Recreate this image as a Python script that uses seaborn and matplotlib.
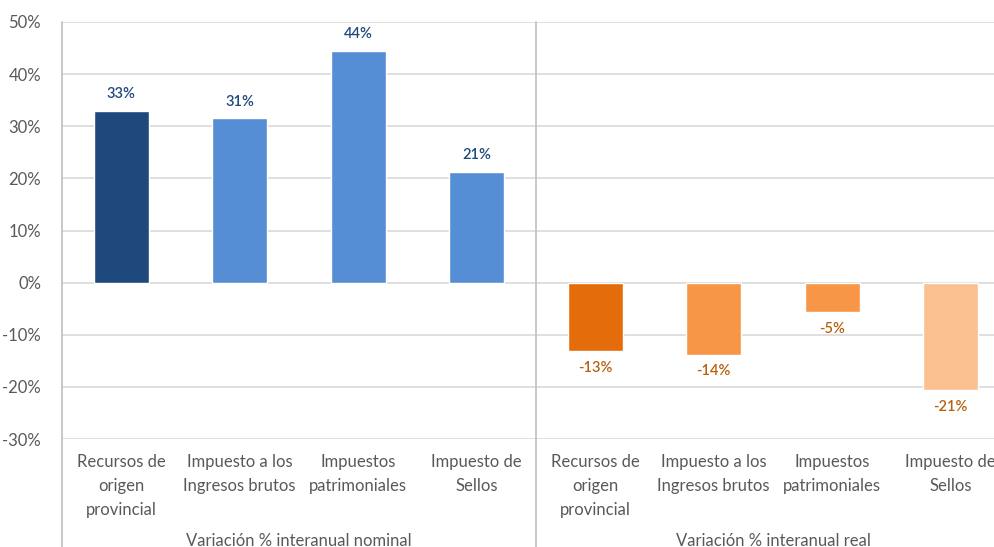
import pandas as pd
import seaborn as sns
import matplotlib.pyplot as plt
from matplotlib.ticker import FuncFormatter

# ---------------------------------------------------------
# DADES
# ---------------------------------------------------------
conceptos = ['Recursos de\norigen\nprovincial', 'Impuesto a los\nIngresos brutos',
             'Impuestos\npatrimoniales', 'Impuesto de\nSellos']
grupos = ['Variación % interanual nominal', 'Variación % interanual real']
var_nominal = [32.9, 31.5, 44.4, 21.2]
var_real = [-13.1, -13.8, -5.6, -20.6]
etiquetas_nominal = ['33%', '31%', '44%', '21%']
etiquetas_real = ['-13%', '-14%', '-5%', '-21%']

colores = ['#1F497D', '#558ED5', '#558ED5', '#558ED5',
           '#E46C0A', '#F79646', '#F79646', '#FAC090']
color_txt_nom = '#1F497D'
color_txt_real = '#B8600F'
GRIS = '#595959'

df = pd.DataFrame({
    'slot': list(range(8)),
    'concepto': conceptos * 2,
    'grupo': [grupos[0]] * 4 + [grupos[1]] * 4,
    'valor': var_nominal + var_real,
    'etiqueta': etiquetas_nominal + etiquetas_real,
})

# ---------------------------------------------------------
# GRÀFIC
# ---------------------------------------------------------
sns.set_style("white")
plt.rcParams['font.family'] = ['Lato', 'DejaVu Sans']

fig = plt.figure(figsize=(9.95, 5.47), dpi=100)
W, H = 995, 547
ax = fig.add_axes([62 / W, 1 - 439 / H, 948 / W, 417 / H])

sns.barplot(data=df, x='slot', y='valor', hue='slot', palette=colores,
            saturation=1, dodge=False, legend=False, width=0.46, ax=ax, zorder=3)

ax.set_xlim(-0.5, 7.5)
ax.set_ylim(-30, 50)
ax.set_yticks(range(-30, 51, 10))
ax.yaxis.set_major_formatter(FuncFormatter(lambda v, p: f'{v:.0f}%'))
ax.grid(axis='y', color='#D9D9D9', linewidth=1.2, zorder=0)
ax.set_axisbelow(True)
for s in ax.spines.values():
    s.set_visible(False)

ax.set_xticks(range(8))
ax.set_xticklabels(df['concepto'], fontsize=12, color=GRIS, linespacing=1.6,
                   va='top')
ax.tick_params(axis='x', length=0, pad=11)
ax.tick_params(axis='y', length=0, pad=15, labelsize=12, labelcolor=GRIS)
ax.set_xlabel('')
ax.set_ylabel('')

# etiquetes de dades
for i, row in df.iterrows():
    v = row['valor']
    if v >= 0:
        ax.annotate(row['etiqueta'], (row['slot'], v), xytext=(0, 7),
                    textcoords='offset points', ha='center', va='bottom',
                    fontsize=10.5, fontweight='semibold', color=color_txt_nom)
    else:
        ax.annotate(row['etiqueta'], (row['slot'], v), xytext=(0, -7),
                    textcoords='offset points', ha='center', va='top',
                    fontsize=10.5, fontweight='semibold', color=color_txt_real)

# línies verticals (eix i separador de grups)
for xs in [-0.5, 3.5]:
    ax.axvline(xs, ymin=-0.27, ymax=1, color='#BFBFBF', linewidth=1.2,
               clip_on=False, zorder=4)

# títols de grup
for k, g in enumerate(grupos):
    ax.text(1.5 + 4 * k, -0.225, g, transform=ax.get_xaxis_transform(),
            ha='center', va='top', fontsize=12, color=GRIS)

plt.savefig('out.png', dpi=100)
plt.close()
